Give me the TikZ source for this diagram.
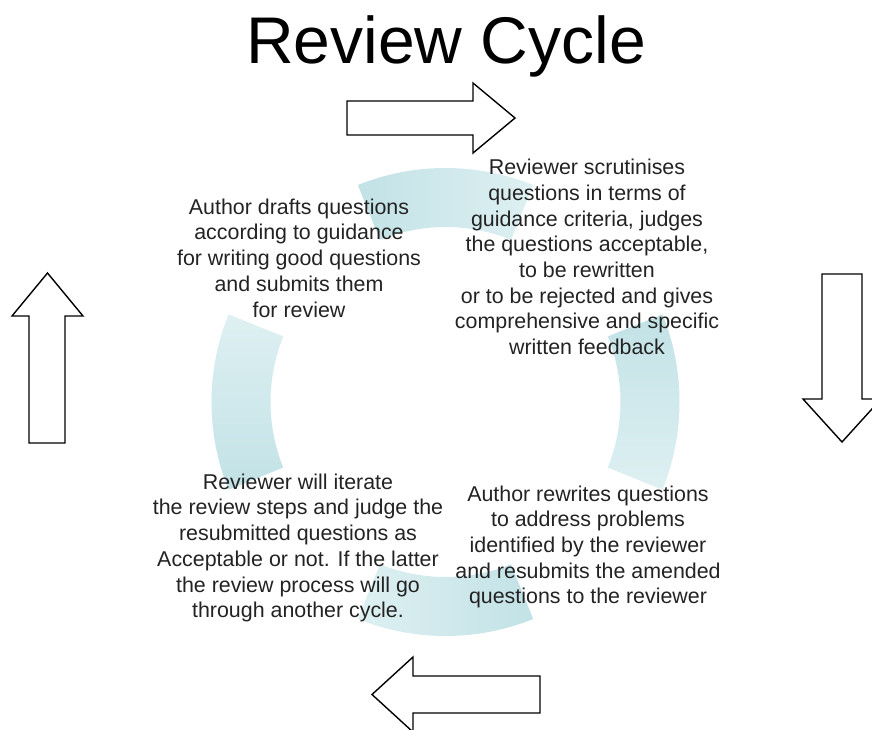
\documentclass[tikz,border=0pt]{standalone}
\usepackage{fontspec}
\setmainfont{Liberation Sans}
\definecolor{segdark}{RGB}{194,226,230}
\definecolor{seglight}{RGB}{222,240,242}
\definecolor{txt}{RGB}{35,35,35}
\begin{document}
\begin{tikzpicture}[x=1pt,y=-1pt,
  blockarrow/.style={draw=black,line width=1.4pt,fill=white,line join=miter},
  bodytext/.style={align=center,inner sep=0pt,text=txt,font=\fontsize{21.4}{25.7}\selectfont},
  titletext/.style={inner sep=0pt,text=black,font=\fontsize{66}{70}\selectfont}]
\clip (0,0) rectangle (872,729);
\fill[white] (0,0) rectangle (872,729);
% ring segments (angles negated because y points down)
\def\Ro{234}\def\Ri{175}
\begin{scope}[shift={(445.5,402)}]
  \shade[left color=segdark,right color=seglight]
    (-68:\Ro) arc[start angle=-68,end angle=-112,radius=\Ro] -- (-112:\Ri) arc[start angle=-112,end angle=-68,radius=\Ri] -- cycle;
  \shade[top color=segdark,bottom color=seglight]
    (22:\Ro) arc[start angle=22,end angle=-22,radius=\Ro] -- (-22:\Ri) arc[start angle=-22,end angle=22,radius=\Ri] -- cycle;
  \shade[left color=seglight,right color=segdark]
    (112:\Ro) arc[start angle=112,end angle=68,radius=\Ro] -- (68:\Ri) arc[start angle=68,end angle=112,radius=\Ri] -- cycle;
  \shade[top color=seglight,bottom color=segdark]
    (158:\Ro) arc[start angle=158,end angle=202,radius=\Ro] -- (202:\Ri) arc[start angle=202,end angle=158,radius=\Ri] -- cycle;
\end{scope}
% block arrows
\draw[blockarrow] (347,101) -- (473,101) -- (473,83) -- (515,118) -- (473,153) -- (473,135) -- (347,135) -- cycle;
\draw[blockarrow] (822,274) -- (862,274) -- (862,399) -- (881,399) -- (842,442) -- (803,399) -- (822,399) -- cycle;
\draw[blockarrow] (540,676) -- (413,676) -- (413,657) -- (372,694.5) -- (413,732) -- (413,713) -- (540,713) -- cycle;
\draw[blockarrow] (29,443) -- (29,316) -- (12,316) -- (47.5,273) -- (83,316) -- (65,316) -- (65,443) -- cycle;
% texts
\node[titletext,anchor=base] (title) at (446,63) {Review Cycle};
\node[bodytext] (draft) at (299,258) {Author drafts questions\\according to guidance\\for writing good questions\\and submits them\\for review};
\node[bodytext] (scrut) at (587,257) {Reviewer scrutinises\\questions in terms of\\guidance criteria, judges\\the questions acceptable,\\to be rewritten\\or to be rejected and gives\\comprehensive and specific\\written feedback};
\node[bodytext] (rewrite) at (588,547) {Author rewrites questions\\to address problems\\identified by the reviewer\\and resubmits the amended\\questions to the reviewer};
\node[bodytext] (iterate) at (298,548) {Reviewer will iterate\\the review steps and judge the\\resubmitted questions as\\Acceptable or not. If the latter\\the review process will go\\through another cycle.};
\end{tikzpicture}
\end{document}
